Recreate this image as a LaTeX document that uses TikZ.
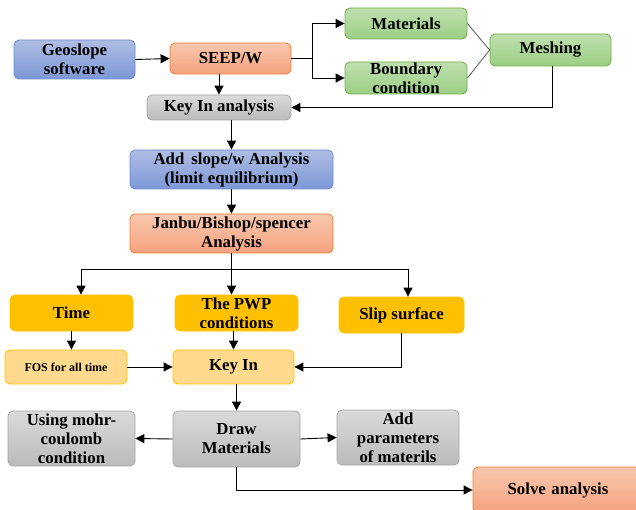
\documentclass[tikz,border=0pt]{standalone}
\usepackage{fontspec}
\setmainfont{Liberation Serif}
\usetikzlibrary{arrows.meta,calc}
\definecolor{bluetop}{HTML}{AEBDE3}
\definecolor{bluebot}{HTML}{7D97D6}
\definecolor{blueedge}{HTML}{6A8AD0}
\definecolor{saltop}{HTML}{F9C8AE}
\definecolor{salbot}{HTML}{F4A27F}
\definecolor{saledge}{HTML}{ED7D31}
\definecolor{grntop}{HTML}{BFE0AE}
\definecolor{grnbot}{HTML}{9BCE84}
\definecolor{grnedge}{HTML}{70AD47}
\definecolor{grytop}{HTML}{DADADA}
\definecolor{grybot}{HTML}{BBBBBB}
\definecolor{gryedge}{HTML}{A5A5A5}
\definecolor{gold}{HTML}{FFC000}
\definecolor{ltgold}{HTML}{FFD98E}
\tikzset{
  box/.style={rounded corners=5pt, align=center, inner sep=0pt,
     font=\fontsize{16.8}{19}\selectfont\bfseries, line width=0.8pt},
  bluebox/.style={box, draw=blueedge, top color=bluetop, bottom color=bluebot},
  salbox/.style={box, draw=saledge, top color=saltop, bottom color=salbot},
  grnbox/.style={box, draw=grnedge, top color=grntop, bottom color=grnbot},
  grybox/.style={box, draw=gryedge, top color=grytop, bottom color=grybot},
  goldbox/.style={box, draw=gold, fill=gold},
  ltbox/.style={box, draw=gold, fill=ltgold},
  arr/.style={line width=0.9pt, -{Triangle[length=9pt,width=9pt]}},
  ln/.style={line width=0.9pt},
  glines/.style={line width=0.8pt, draw=black!65}
}
\begin{document}
\begin{tikzpicture}[x=1pt,y=-1pt]
\useasboundingbox (0,0) rectangle (636,510);
\clip (0,0) rectangle (636,510);
% nodes
\node[bluebox, minimum width=121pt, minimum height=39pt] (geo) at (74.5,59.5) {Geoslope\\software};
\node[salbox, minimum width=121pt, minimum height=31pt] (seep) at (230.5,58.5) {SEEP/W};
\node[grnbox, minimum width=122pt, minimum height=31pt] (mat) at (406,23.5) {Materials};
\node[grnbox, minimum width=122pt, minimum height=32pt] (bnd) at (406,78) {Boundary\\condition};
\node[grnbox, minimum width=121pt, minimum height=32pt] (mesh) at (550.5,50) {Meshing};
\node[grybox, minimum width=144pt, minimum height=25pt] (keyan) at (219,107.5) {Key In analysis};
\node[bluebox, minimum width=203pt, minimum height=39pt] (slope) at (231.5,169.5) {Add\, slope/w Analysis\\(limit equilibrium)};
\node[salbox, minimum width=203pt, minimum height=39pt] (janbu) at (231.5,233.5) {Janbu/Bishop/spencer\\Analysis};
\node[goldbox, minimum width=123pt, minimum height=36pt] (time) at (71.5,313) {Time};
\node[goldbox, minimum width=123pt, minimum height=36pt] (pwp) at (236.5,313) {The PWP\\conditions};
\node[goldbox, minimum width=125pt, minimum height=36pt] (slip) at (401.5,315) {Slip surface};
\node[ltbox, minimum width=122pt, minimum height=34pt, font=\fontsize{12}{14}\selectfont\bfseries] (fos) at (66,367) {FOS for all time};
\node[ltbox, minimum width=121pt, minimum height=34pt] (keyin) at (233.5,367) {Key In};
\node[grybox, minimum width=127pt, minimum height=55pt] (mohr) at (71.5,438.5) {Using mohr-\\coulomb\\condition};
\node[grybox, minimum width=127pt, minimum height=56pt] (drawm) at (236.5,439) {Draw\\Materials};
\node[grybox, minimum width=122pt, minimum height=55pt] (addp) at (398,437.5) {Add\\parameters\\of materils};
\node[salbox, minimum width=170pt, minimum height=46pt, text width=163pt] (solve) at (558,490) {Solve analysis\hspace*{8pt}};
% connectors
\draw[arr] (geo.east) -- (seep.west);
\coordinate (sp) at (312,58.5);
\draw[ln] (seep.east) -- (sp);
\draw[arr] (sp) |- (mat.west);
\draw[arr] (sp) |- (bnd.west);
\draw[glines] (mat.east) -- (mesh.west);
\draw[glines] (bnd.east) -- (mesh.west);
\draw[arr] ([xshift=1.5pt]mesh.south) |- (keyan.east);
\draw[arr] (keyan.north |- seep.south) -- (keyan.north);
\draw[arr] (slope.north |- keyan.south) -- (slope.north);
\draw[arr] (slope.south) -- (janbu.north);
\coordinate (jb) at (231.5,269);
\draw[arr] (janbu.south) -- (janbu.south |- pwp.north);
\draw[arr] (jb) -| ([xshift=9.5pt]time.north);
\draw[arr] (jb) -| ([xshift=6.5pt]slip.north);
\draw[arr] (time.south) -- (time.south |- fos.north);
\draw[arr] (keyin.north |- pwp.south) -- (keyin.north);
\draw[arr] (fos.east) -- (keyin.west);
\draw[arr] (slip.south) |- (keyin.east);
\draw[arr] (drawm.north |- keyin.south) -- (drawm.north);
\draw[arr] (drawm.west) -- (mohr.east);
\draw[arr] (drawm.east) -- (addp.west);
\draw[arr] (drawm.south) |- (solve.west);
\end{tikzpicture}
\end{document}
